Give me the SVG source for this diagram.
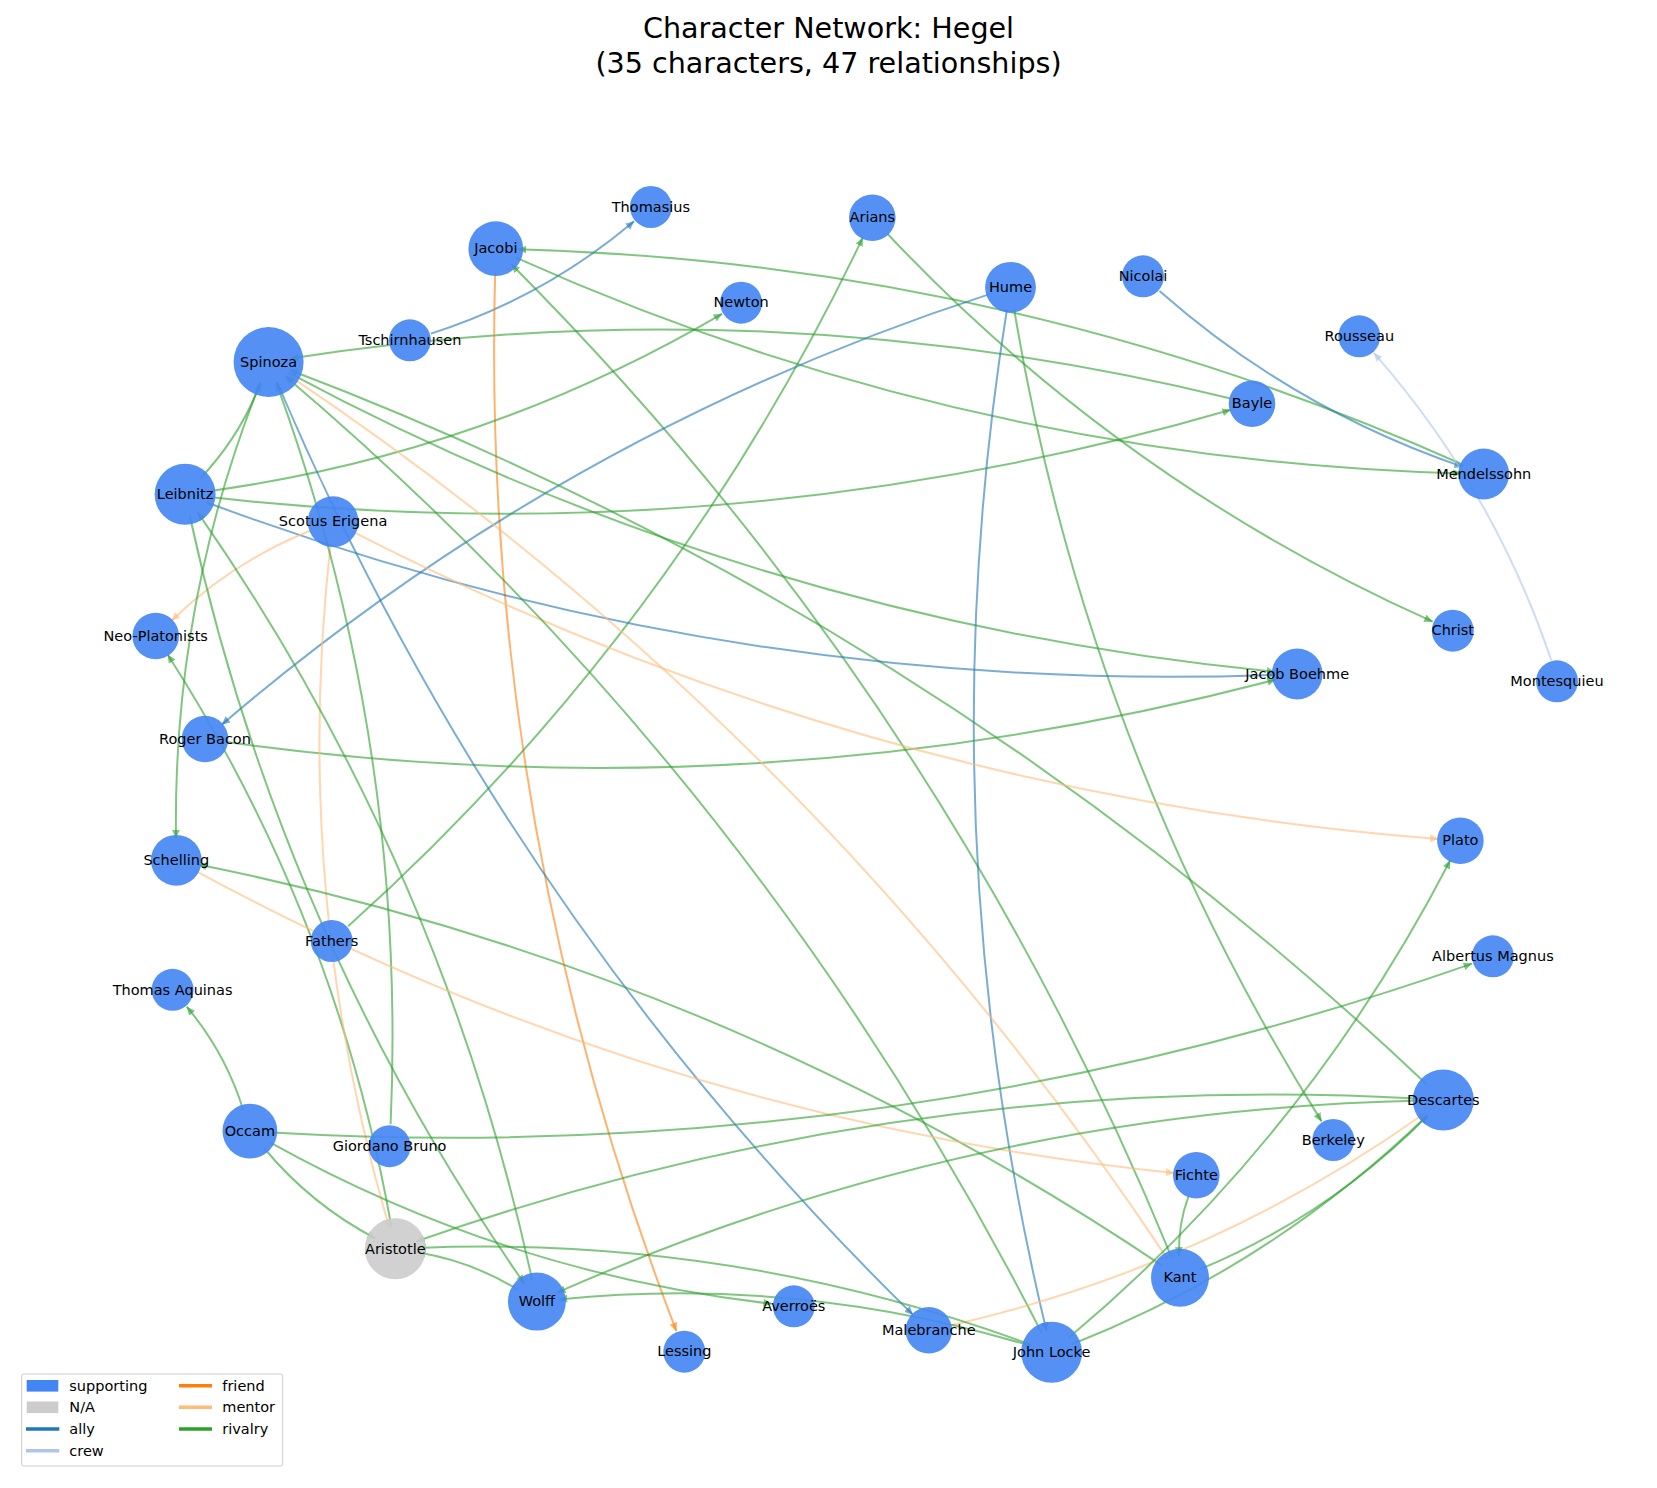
<svg xmlns="http://www.w3.org/2000/svg" width="1657" height="1488" viewBox="0 0 1657 1488">
<style>
.e{fill:none;stroke-width:2;stroke-opacity:0.6}
.ally{stroke:#1f77b4;marker-end:url(#m-ally)}
.crew{stroke:#aec7e8;marker-end:url(#m-crew)}
.friend{stroke:#ff7f0e;marker-end:url(#m-friend)}
.mentor{stroke:#ffbb78;marker-end:url(#m-mentor)}
.rivalry{stroke:#2ca02c;marker-end:url(#m-rivalry)}
.n{fill:#4285f4;fill-opacity:0.9}
.na{fill:#cccccc;fill-opacity:0.9}
text{font-family:"DejaVu Sans","Liberation Sans",sans-serif;fill:#000}
.lbl{font-size:14.5px;text-anchor:middle}
.title{font-size:28.6px;text-anchor:middle}
.leg{font-size:14.5px}
</style>
<defs>
<marker id="m-ally" markerUnits="userSpaceOnUse" markerWidth="10" markerHeight="10" refX="8.5" refY="4" orient="auto"><path d="M0,0L8.5,4L0,8z" fill="#1f77b4" fill-opacity="0.6"/></marker>
<marker id="m-crew" markerUnits="userSpaceOnUse" markerWidth="10" markerHeight="10" refX="8.5" refY="4" orient="auto"><path d="M0,0L8.5,4L0,8z" fill="#aec7e8" fill-opacity="0.6"/></marker>
<marker id="m-friend" markerUnits="userSpaceOnUse" markerWidth="10" markerHeight="10" refX="8.5" refY="4" orient="auto"><path d="M0,0L8.5,4L0,8z" fill="#ff7f0e" fill-opacity="0.6"/></marker>
<marker id="m-mentor" markerUnits="userSpaceOnUse" markerWidth="10" markerHeight="10" refX="8.5" refY="4" orient="auto"><path d="M0,0L8.5,4L0,8z" fill="#ffbb78" fill-opacity="0.6"/></marker>
<marker id="m-rivalry" markerUnits="userSpaceOnUse" markerWidth="10" markerHeight="10" refX="8.5" refY="4" orient="auto"><path d="M0,0L8.5,4L0,8z" fill="#2ca02c" fill-opacity="0.6"/></marker>
</defs>
<rect width="1657" height="1488" fill="#ffffff"/>
<g id="title">
<text class="title" x="828.5" y="38.3">Character Network: Hegel</text>
<text class="title" x="828.5" y="73.3">(35 characters, 47 relationships)</text>
</g>
<g id="edges">
<path class="e ally" d="M430.9,333.6 Q543.7,297.8 634.1,221.2"/>
<path class="e rivalry" d="M1230.6,398.5 Q764.5,284.5 290.3,358.6"/>
<path class="e friend" d="M495.2,270.7 Q479.8,819.1 676.4,1331.2"/>
<path class="e rivalry" d="M515.9,257.7 Q967.2,460.1 1461.7,473.4"/>
<path class="e rivalry" d="M1463.6,465.0 Q1012.3,262.6 517.8,249.3"/>
<path class="e rivalry" d="M1171.6,1257.3 Q940.8,694.8 511.3,264.3"/>
<path class="e rivalry" d="M206.9,491.4 Q482.3,454.1 722.1,313.8"/>
<path class="e ally" d="M989.6,294.1 Q562.6,432.6 221.7,724.7"/>
<path class="e rivalry" d="M348.1,926.3 Q674.3,633.4 862.8,237.6"/>
<path class="e rivalry" d="M1427.3,1084.9 Q929.8,613.5 289.2,369.8"/>
<path class="e rivalry" d="M288.0,372.4 Q751.7,620.9 1275.3,671.9"/>
<path class="e rivalry" d="M207.0,496.8 Q727.6,555.7 1230.9,409.8"/>
<path class="e ally" d="M1007.0,309.0 Q924.6,823.9 1046.5,1330.9"/>
<path class="e rivalry" d="M1014.1,309.0 Q1086.6,745.9 1321.6,1121.4"/>
<path class="e rivalry" d="M887.4,233.7 Q1121.3,482.3 1432.7,621.7"/>
<path class="e ally" d="M1159.5,290.9 Q1293.6,409.2 1462.9,466.9"/>
<path class="e crew" d="M1551.3,660.2 Q1493.3,488.8 1373.8,352.8"/>
<path class="e ally" d="M205.7,502.0 Q723.2,695.4 1275.2,674.8"/>
<path class="e rivalry" d="M226.8,742.0 Q757.6,815.7 1275.9,679.6"/>
<path class="e rivalry" d="M391.5,1227.1 Q336.8,918.4 167.6,654.5"/>
<path class="e mentor" d="M312.6,529.8 Q233.0,561.1 171.5,620.7"/>
<path class="e mentor" d="M352.7,531.7 Q864.9,793.9 1438.5,839.0"/>
<path class="e mentor" d="M330.6,543.6 Q291.5,891.5 389.2,1227.7"/>
<path class="e rivalry" d="M200.3,478.4 Q240.1,436.5 260.7,382.6"/>
<path class="e rivalry" d="M260.4,382.4 Q172.6,601.9 176.0,838.3"/>
<path class="e rivalry" d="M390.6,1124.2 Q407.5,742.0 276.2,382.7"/>
<path class="e ally" d="M277.2,382.3 Q501.9,912.2 913.1,1314.9"/>
<path class="e mentor" d="M1167.8,1259.4 Q815.9,728.7 286.9,374.2"/>
<path class="e rivalry" d="M1041.6,1332.7 Q759.1,778.9 285.4,376.2"/>
<path class="e rivalry" d="M532.2,1280.1 Q441.7,862.8 197.7,512.4"/>
<path class="e rivalry" d="M189.8,515.8 Q280.3,933.1 524.3,1283.6"/>
<path class="e rivalry" d="M1161.7,1265.4 Q719.9,968.6 197.9,864.6"/>
<path class="e mentor" d="M195.6,870.8 Q654.8,1119.8 1174.4,1173.1"/>
<path class="e rivalry" d="M243.3,1110.1 Q225.4,1052.7 186.7,1006.7"/>
<path class="e rivalry" d="M271.9,1132.4 Q888.9,1168.0 1472.1,963.6"/>
<path class="e rivalry" d="M264.0,1148.0 Q310.8,1204.5 375.8,1238.6"/>
<path class="e rivalry" d="M518.2,1290.0 Q471.4,1261.0 417.0,1252.3"/>
<path class="e rivalry" d="M1421.3,1098.8 Q904.4,1069.6 416.1,1241.5"/>
<path class="e rivalry" d="M1421.3,1100.5 Q969.9,1110.2 557.0,1292.7"/>
<path class="e rivalry" d="M1072.1,1344.2 Q1272.7,1265.3 1427.5,1115.3"/>
<path class="e rivalry" d="M1200.3,1269.2 Q1329.4,1215.2 1427.8,1115.6"/>
<path class="e mentor" d="M950.3,1325.4 Q1209.1,1266.6 1425.4,1112.8"/>
<path class="e rivalry" d="M1068.4,1338.1 Q1307.2,1137.4 1450.3,860.3"/>
<path class="e rivalry" d="M1188.6,1195.9 Q1177.9,1224.9 1179.1,1255.7"/>
<path class="e rivalry" d="M269.1,1141.8 Q504.3,1273.1 771.9,1303.8"/>
<path class="e rivalry" d="M1031.0,1344.7 Q733.8,1234.9 417.3,1247.9"/>
<path class="e rivalry" d="M1030.6,1345.9 Q799.3,1275.5 558.8,1299.4"/>
</g>
<g id="node-thomasius"><circle class="n" cx="650.9" cy="207" r="21"/><text class="lbl" x="650.9" y="211.7">Thomasius</text></g>
<g id="node-jacobi"><circle class="n" cx="495.8" cy="248.7" r="27.4"/><text class="lbl" x="495.8" y="253.4">Jacobi</text></g>
<g id="node-tschirnhausen"><circle class="n" cx="409.9" cy="340.3" r="21"/><text class="lbl" x="409.9" y="345">Tschirnhausen</text></g>
<g id="node-spinoza"><circle class="n" cx="268.6" cy="362" r="35"/><text class="lbl" x="268.6" y="366.7">Spinoza</text></g>
<g id="node-leibnitz"><circle class="n" cx="185.1" cy="494.3" r="30.5"/><text class="lbl" x="185.1" y="499">Leibnitz</text></g>
<g id="node-scotus-erigena"><circle class="n" cx="333.1" cy="521.7" r="25.4"/><text class="lbl" x="333.1" y="526.4">Scotus Erigena</text></g>
<g id="node-arians"><circle class="n" cx="872.3" cy="217.7" r="23.3"/><text class="lbl" x="872.3" y="222.4">Arians</text></g>
<g id="node-newton"><circle class="n" cx="741.1" cy="302.7" r="21"/><text class="lbl" x="741.1" y="307.4">Newton</text></g>
<g id="node-hume"><circle class="n" cx="1010.5" cy="287.3" r="25.4"/><text class="lbl" x="1010.5" y="292">Hume</text></g>
<g id="node-nicolai"><circle class="n" cx="1143" cy="276.3" r="21"/><text class="lbl" x="1143" y="281">Nicolai</text></g>
<g id="node-rousseau"><circle class="n" cx="1359.3" cy="336.3" r="21"/><text class="lbl" x="1359.3" y="341">Rousseau</text></g>
<g id="node-bayle"><circle class="n" cx="1252" cy="403.7" r="23.3"/><text class="lbl" x="1252" y="408.4">Bayle</text></g>
<g id="node-mendelssohn"><circle class="n" cx="1483.7" cy="474" r="25.4"/><text class="lbl" x="1483.7" y="478.7">Mendelssohn</text></g>
<g id="node-christ"><circle class="n" cx="1452.8" cy="630.7" r="21"/><text class="lbl" x="1452.8" y="635.4">Christ</text></g>
<g id="node-jacob-boehme"><circle class="n" cx="1297.2" cy="674" r="25.4"/><text class="lbl" x="1297.2" y="678.7">Jacob Boehme</text></g>
<g id="node-montesquieu"><circle class="n" cx="1557" cy="681.3" r="21"/><text class="lbl" x="1557" y="686">Montesquieu</text></g>
<g id="node-neo-platonists"><circle class="n" cx="155.7" cy="636" r="23.3"/><text class="lbl" x="155.7" y="640.7">Neo-Platonists</text></g>
<g id="node-roger-bacon"><circle class="n" cx="205" cy="739" r="23.3"/><text class="lbl" x="205" y="743.7">Roger Bacon</text></g>
<g id="node-schelling"><circle class="n" cx="176.3" cy="860.3" r="25.4"/><text class="lbl" x="176.3" y="865">Schelling</text></g>
<g id="node-fathers"><circle class="n" cx="331.7" cy="941" r="21"/><text class="lbl" x="331.7" y="945.7">Fathers</text></g>
<g id="node-thomas-aquinas"><circle class="n" cx="172.6" cy="989.8" r="21"/><text class="lbl" x="172.6" y="994.5">Thomas Aquinas</text></g>
<g id="node-occam"><circle class="n" cx="249.9" cy="1131.1" r="27.4"/><text class="lbl" x="249.9" y="1135.8">Occam</text></g>
<g id="node-giordano-bruno"><circle class="n" cx="389.6" cy="1146.2" r="21"/><text class="lbl" x="389.6" y="1150.9">Giordano Bruno</text></g>
<g id="node-aristotle"><circle class="na" cx="395.3" cy="1248.8" r="30.5"/><text class="lbl" x="395.3" y="1253.5">Aristotle</text></g>
<g id="node-wolff"><circle class="n" cx="536.9" cy="1301.6" r="29"/><text class="lbl" x="536.9" y="1306.3">Wolff</text></g>
<g id="node-lessing"><circle class="n" cx="684.3" cy="1351.7" r="21"/><text class="lbl" x="684.3" y="1356.4">Lessing</text></g>
<g id="node-averroes"><circle class="n" cx="793.8" cy="1306.3" r="21"/><text class="lbl" x="793.8" y="1311">Averroës</text></g>
<g id="node-malebranche"><circle class="n" cx="928.8" cy="1330.3" r="23.3"/><text class="lbl" x="928.8" y="1335">Malebranche</text></g>
<g id="node-john-locke"><circle class="n" cx="1051.6" cy="1352.3" r="30.5"/><text class="lbl" x="1051.6" y="1357">John Locke</text></g>
<g id="node-plato"><circle class="n" cx="1460.4" cy="840.7" r="23.3"/><text class="lbl" x="1460.4" y="845.4">Plato</text></g>
<g id="node-albertus-magnus"><circle class="n" cx="1492.9" cy="956.3" r="21"/><text class="lbl" x="1492.9" y="961">Albertus Magnus</text></g>
<g id="node-descartes"><circle class="n" cx="1443.3" cy="1100" r="30.5"/><text class="lbl" x="1443.3" y="1104.7">Descartes</text></g>
<g id="node-berkeley"><circle class="n" cx="1333.3" cy="1140" r="21"/><text class="lbl" x="1333.3" y="1144.7">Berkeley</text></g>
<g id="node-fichte"><circle class="n" cx="1196.3" cy="1175.3" r="23.3"/><text class="lbl" x="1196.3" y="1180">Fichte</text></g>
<g id="node-kant"><circle class="n" cx="1180" cy="1277.7" r="29"/><text class="lbl" x="1180" y="1282.4">Kant</text></g>
<g id="legend">
<rect x="21.7" y="1374" width="261" height="92" rx="2" fill="#ffffff" fill-opacity="0.8" stroke="#cccccc" stroke-width="1"/>
<rect x="26.7" y="1380" width="31.6" height="11.6" fill="#4285f4"/>
<text class="leg" x="69.3" y="1390.5">supporting</text>
<rect x="26.7" y="1401.5" width="31.6" height="11.6" fill="#cccccc"/>
<text class="leg" x="69.3" y="1412.3">N/A</text>
<line x1="26" y1="1429" x2="59.3" y2="1429" stroke="#1f77b4" stroke-width="3.5"/>
<text class="leg" x="69.3" y="1434">ally</text>
<line x1="26" y1="1450.7" x2="59.3" y2="1450.7" stroke="#aec7e8" stroke-width="3.5"/>
<text class="leg" x="69.3" y="1455.7">crew</text>
<line x1="179" y1="1385.7" x2="212" y2="1385.7" stroke="#ff7f0e" stroke-width="3.5"/>
<text class="leg" x="222.3" y="1390.5">friend</text>
<line x1="179" y1="1407.3" x2="212" y2="1407.3" stroke="#ffbb78" stroke-width="3.5"/>
<text class="leg" x="222.3" y="1412.3">mentor</text>
<line x1="179" y1="1429" x2="212" y2="1429" stroke="#2ca02c" stroke-width="3.5"/>
<text class="leg" x="222.3" y="1434">rivalry</text>
</g>
</svg>
